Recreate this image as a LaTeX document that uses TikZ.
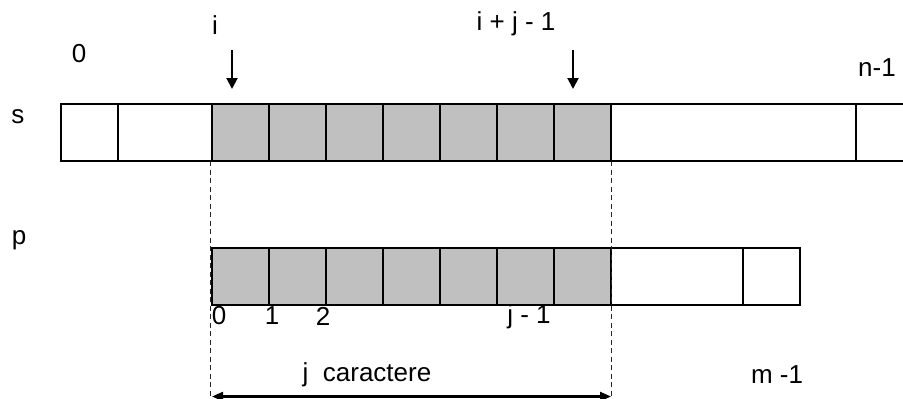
\documentclass[tikz,border=0pt]{standalone}
\usepackage{fontspec}
\setmainfont{Liberation Sans}
\usetikzlibrary{arrows.meta}
\definecolor{cellgray}{RGB}{192,192,192}
\begin{document}
\begin{tikzpicture}[x=1pt,y=-1pt,
  cell/.style={draw, line width=2.8pt, inner sep=0pt, outer sep=0pt,
               minimum height=57pt, anchor=west},
  hit/.style={cell, fill=cellgray},
  lbl/.style={font=\fontsize{26}{30}\selectfont, inner sep=0pt},
  pointer/.style={line width=2pt, -{Triangle[length=11pt,width=11pt]}},
  guide/.style={line width=1.3pt, dash pattern=on 5pt off 3.5pt, black!85},
  span/.style={line width=2.2pt,
               {Triangle[length=11pt,width=9pt]}-{Triangle[length=11pt,width=9pt]}}]
\useasboundingbox (0,0) rectangle (903,399);

% text array s
\node[cell, minimum width=57pt] (s0) at (61,132.5) {};
\node[cell, minimum width=94pt] (s1) at (118,132.5) {};
\foreach \k in {2,...,8}
  \node[hit, minimum width=57pt] (s\k) at ({212+57*(\k-2)},132.5) {};
\node[cell, minimum width=245pt] (s9) at (611,132.5) {};
\node[cell, minimum width=57pt] (s10) at (856,132.5) {};

% pattern array p
\foreach \k in {0,...,6}
  \node[hit, minimum width=57pt] (p\k) at ({212+57*\k},276.5) {};
\node[cell, minimum width=132pt] (p7) at (611,276.5) {};
\node[cell, minimum width=57pt] (p8) at (743,276.5) {};

% names and indices
\node[lbl] (sname) at (18,117) {s};
\node[lbl] (pname) at (19,240) {p};
\node[lbl] (szero) at (79,54) {0};
\node[lbl] (slast) at (877,68) {n-1};
\node[lbl] (ilbl) at (215,25) {i};
\node[lbl] (ijlbl) at (516,24) {i + j - 1};
\node[lbl] (pzero) at (219,316) {0};
\node[lbl] (pone) at (272,316) {1};
\node[lbl] (ptwo) at (323,316) {2};
\node[lbl] (pjm) at (529,317) {j - 1};
\node[lbl] (jcar) at (367,375) {j\ \ caractere};
\node[lbl] (plast) at (777,375) {m -1};

% pointers into s
\coordinate (ptrA) at (232,50);
\coordinate (ptrB) at (573,50);
\draw[pointer, shorten >=15pt] (ptrA) -- (ptrA |- s2.north);
\draw[pointer, shorten >=15pt] (ptrB) -- (ptrB |- s8.north);

% alignment guides
\coordinate (guideL) at (210.5,399);
\coordinate (guideR) at (611.5,399);
\draw[guide] (s2.south west -| guideL) -- (guideL);
\draw[guide] (s8.south east -| guideR) -- (guideR);

% span of the match
\coordinate (spanL) at (212,396.5);
\coordinate (spanR) at (611,396.5);
\draw[span] (spanL) -- (spanR);
\end{tikzpicture}
\end{document}
